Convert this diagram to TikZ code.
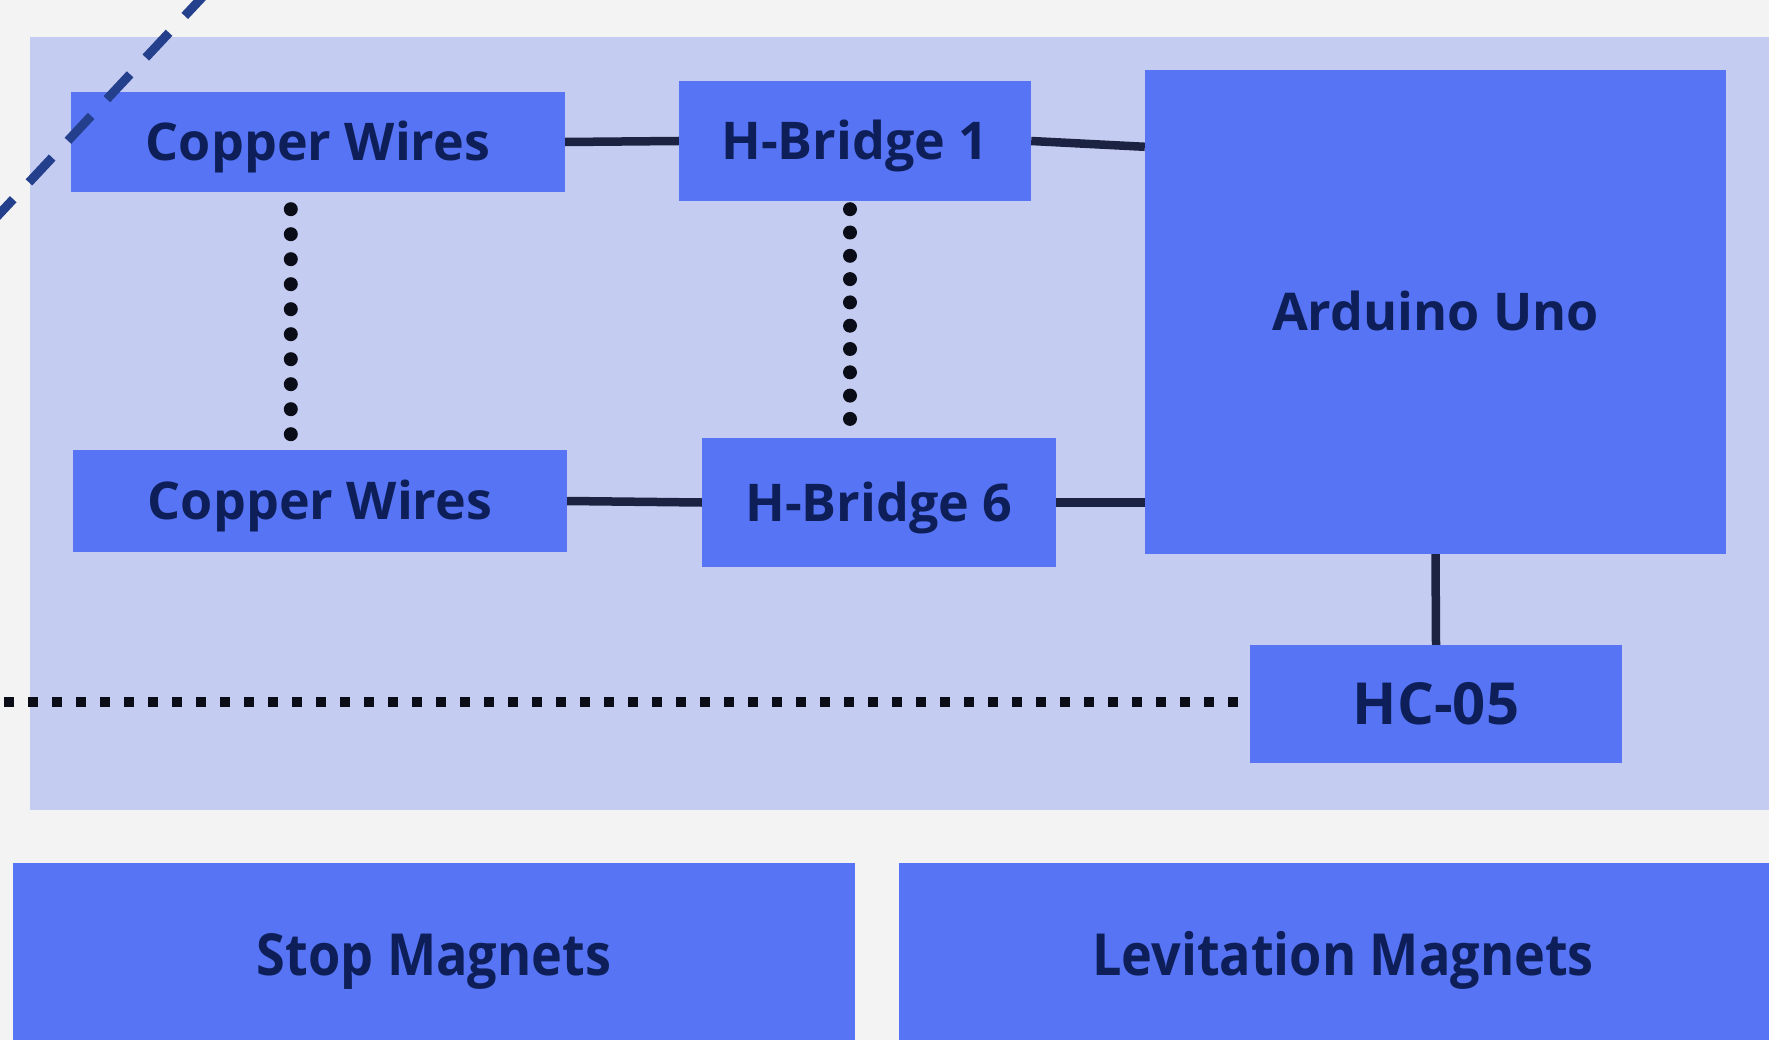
\documentclass[tikz,border=0pt]{standalone}
\usepackage{fontspec}
\setmainfont{Open Sans}
\newfontfamily\narrowfont{Open Sans}[FakeStretch=0.9]
\usetikzlibrary{calc}
\definecolor{bgc}{HTML}{F3F3F4}
\definecolor{panelc}{HTML}{C5CCF1}
\definecolor{boxc}{HTML}{5674F3}
\definecolor{txtc}{HTML}{0D1E58}
\definecolor{wirec}{HTML}{1C2241}
\definecolor{navyc}{HTML}{243F8C}
\definecolor{dotc}{HTML}{0A0C18}
\tikzset{
  blockbox/.style={fill=boxc, draw=none, inner sep=0pt, text=txtc,
    text height=37pt, text depth=0pt,
    font=\fontsize{52}{60}\selectfont\bfseries},
  lowbox/.style={blockbox, text height=41pt,
    font=\narrowfont\fontsize{58}{66}\selectfont\bfseries},
  wire/.style={draw=wirec, line width=8.5pt},
  rounddots/.style={draw=dotc, line width=14pt, line cap=round},
  sqdots/.style={draw=dotc, line width=10pt, dash pattern=on 10pt off 14pt},
  navydash/.style={draw=navyc, line width=9pt, dash pattern=on 34pt off 23pt}
}
\begin{document}
\begin{tikzpicture}[x=1pt,y=-1pt]
\useasboundingbox (0,0) rectangle (1769,1040);
\clip (0,0) rectangle (1769,1040);
\fill[bgc] (0,0) rectangle (1769,1040);
\fill[panelc] (30,37) rectangle (1780,810);

\node[blockbox, minimum width=494pt, minimum height=100pt] (cw1) at (318,142) {Copper Wires};
\node[blockbox, minimum width=352pt, minimum height=120pt] (hb1) at (855,141) {H-Bridge 1};
\node[blockbox, minimum width=581pt, minimum height=484pt] (ard) at (1435.5,312) {Arduino Uno};
\node[blockbox, minimum width=494pt, minimum height=102pt] (cw2) at (320,501) {Copper Wires};
\node[blockbox, minimum width=354pt, minimum height=129pt] (hb6) at (879,502.5) {H-Bridge 6};
\node[blockbox, minimum width=372pt, minimum height=118pt, text height=41pt, font=\fontsize{58}{66}\selectfont\bfseries] (hc) at (1436,704) {HC-05};
\node[lowbox, minimum width=842pt, minimum height=184pt] (stop) at (434,955) {Stop Magnets};
\node[lowbox, minimum width=888pt, minimum height=184pt] (lev) at (1343,955) {Levitation Magnets};

% connectors
\draw[wire] (cw1.east) -- (hb1.west);
\draw[wire] (hb1.east) -- ($(ard.north west)+(0,77)$);
\draw[wire] (cw2.east) -- (hb6.west);
\draw[wire] (hb6.east) -- (hb6.east -| ard.west);
\draw[wire] (ard.south) -- (hc.north);

% dotted verticals
\draw[rounddots, dash pattern=on 0pt off 25.0pt]
  ($(cw1.south west)+(220,17)$) coordinate (d1) -- ($(d1 |- cw2.north)+(0,-14)$);
\draw[rounddots, dash pattern=on 0pt off 23.3pt]
  ($(hb1.south)+(-5,8)$) coordinate (d2) -- ($(d2 |- hb6.north)+(0,-17)$);

% dotted horizontal to the left edge
\coordinate (lend) at (-5,702);
\draw[sqdots] ($(hc.west)+(-12,-2)$) -- (lend);

% navy dashed diagonal
\coordinate (da) at (-10,224);
\coordinate (db) at (210,-11);
\draw[navydash] (da) -- (db);
\end{tikzpicture}
\end{document}
